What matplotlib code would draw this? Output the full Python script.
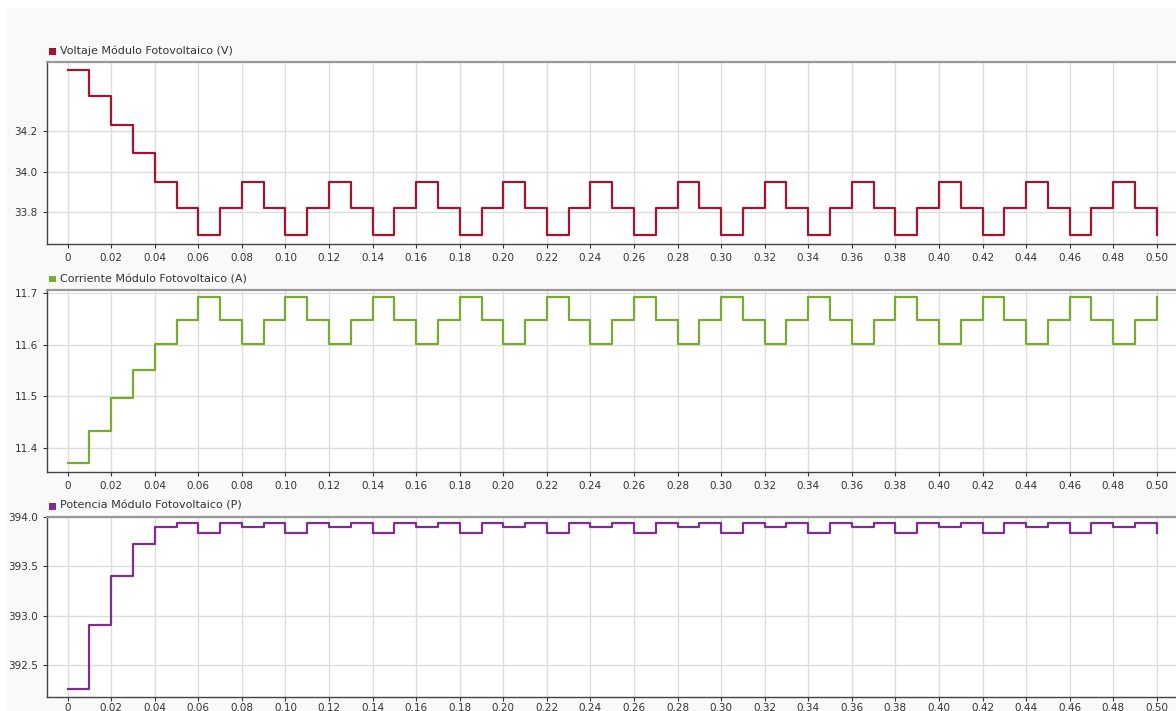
import numpy as np
import matplotlib
matplotlib.use("Agg")
import matplotlib.pyplot as plt
from matplotlib.patches import Rectangle

# tiempo de simulación (paso de 0.01 s)
t = np.round(np.arange(51) * 0.01, 2)

voltaje = [34.50, 34.37, 34.23, 34.09, 33.95, 33.82,
           33.69, 33.82, 33.95, 33.82, 33.69, 33.82, 33.95, 33.82,
           33.69, 33.82, 33.95, 33.82, 33.69, 33.82, 33.95, 33.82,
           33.69, 33.82, 33.95, 33.82, 33.69, 33.82, 33.95, 33.82,
           33.69, 33.82, 33.95, 33.82, 33.69, 33.82, 33.95, 33.82,
           33.69, 33.82, 33.95, 33.82, 33.69, 33.82, 33.95, 33.82,
           33.69, 33.82, 33.95, 33.82, 33.69]

corriente = [11.370, 11.433, 11.496, 11.551, 11.601, 11.648,
             11.693, 11.648, 11.601, 11.648, 11.693, 11.648, 11.601, 11.648,
             11.693, 11.648, 11.601, 11.648, 11.693, 11.648, 11.601, 11.648,
             11.693, 11.648, 11.601, 11.648, 11.693, 11.648, 11.601, 11.648,
             11.693, 11.648, 11.601, 11.648, 11.693, 11.648, 11.601, 11.648,
             11.693, 11.648, 11.601, 11.648, 11.693, 11.648, 11.601, 11.648,
             11.693, 11.648, 11.601, 11.648, 11.693]

potencia = [392.26, 392.91, 393.40, 393.73, 393.90, 393.94,
            393.84, 393.94, 393.90, 393.94, 393.84, 393.94, 393.90, 393.94,
            393.84, 393.94, 393.90, 393.94, 393.84, 393.94, 393.90, 393.94,
            393.84, 393.94, 393.90, 393.94, 393.84, 393.94, 393.90, 393.94,
            393.84, 393.94, 393.90, 393.94, 393.84, 393.94, 393.90, 393.94,
            393.84, 393.94, 393.90, 393.94, 393.84, 393.94, 393.90, 393.94,
            393.84, 393.94, 393.90, 393.94, 393.84]

titulos = ["Voltaje Módulo Fotovoltaico (V)",
           "Corriente Módulo Fotovoltaico (A)",
           "Potencia Módulo Fotovoltaico (P)"]
colores = ["#a2142f", "#77ac30", "#7e2f8e"]
xticks = [0, 0.02, 0.04, 0.06, 0.08, 0.10, 0.12, 0.14, 0.16, 0.18, 0.20,
          0.22, 0.24, 0.26, 0.28, 0.30, 0.32, 0.34, 0.36, 0.38, 0.40,
          0.42, 0.44, 0.46, 0.48, 0.50]
yticks = [[33.8, 34.0, 34.2], [11.4, 11.5, 11.6, 11.7],
          [392.5, 393.0, 393.5, 394.0]]
ylims = [(33.645, 34.538), (11.353, 11.706), (392.18, 394.0)]

W, H = 1176, 711
fig = plt.figure(figsize=(W / 100, H / 100), dpi=100)
fig.patch.set_facecolor("white")
fig.patches.append(Rectangle((7 / W, 0), 1, 1 - 8 / H, transform=fig.transFigure,
                             facecolor="#f9f9f9", edgecolor="none", zorder=-10))

# posiciones en píxeles: (arriba, abajo) de cada panel
paneles = [(62, 244), (290, 472), (517, 697)]
y_titulo = [51, 279, 506]
left = 46.7 / W

for k, serie in enumerate([voltaje, corriente, potencia]):
    top, bot = paneles[k]
    ax = fig.add_axes([left, 1 - bot / H, 1 - left, (bot - top) / H])
    ax.set_facecolor("white")
    ax.plot(t, serie, drawstyle="steps-post", color=colores[k], lw=1.6, zorder=3)
    ax.set_xlim(-0.0096, 0.5088)
    ax.set_ylim(*ylims[k])
    ax.set_xticks(xticks)
    ax.set_xticklabels(["0"] + [f"{v:.2f}" for v in xticks[1:]])
    ax.set_yticks(yticks[k])
    ax.set_yticklabels([f"{v:.1f}" for v in yticks[k]])
    ax.grid(True, color="#dddddd", lw=1)
    ax.set_axisbelow(True)
    ax.tick_params(labelsize=7.5, colors="#333333", length=3, width=0.8)
    if k == 2:
        ax.tick_params(axis="x", pad=1)
    ax.spines["right"].set_visible(False)
    ax.spines["top"].set_color("#999999")
    ax.spines["top"].set_linewidth(1.6)
    ax.spines["left"].set_color("#444444")
    ax.spines["bottom"].set_color("#444444")
    ax.spines["left"].set_linewidth(1)
    ax.spines["bottom"].set_linewidth(1)

    yt = 1 - y_titulo[k] / H
    fig.patches.append(Rectangle((48.5 / W, yt - 3.5 / H), 7 / W, 7 / H,
                                 transform=fig.transFigure, facecolor=colores[k],
                                 edgecolor="none"))
    fig.text(59.5 / W, yt, titulos[k], fontsize=8, color="#333333", va="center")

fig.savefig("out.png", dpi=100)
